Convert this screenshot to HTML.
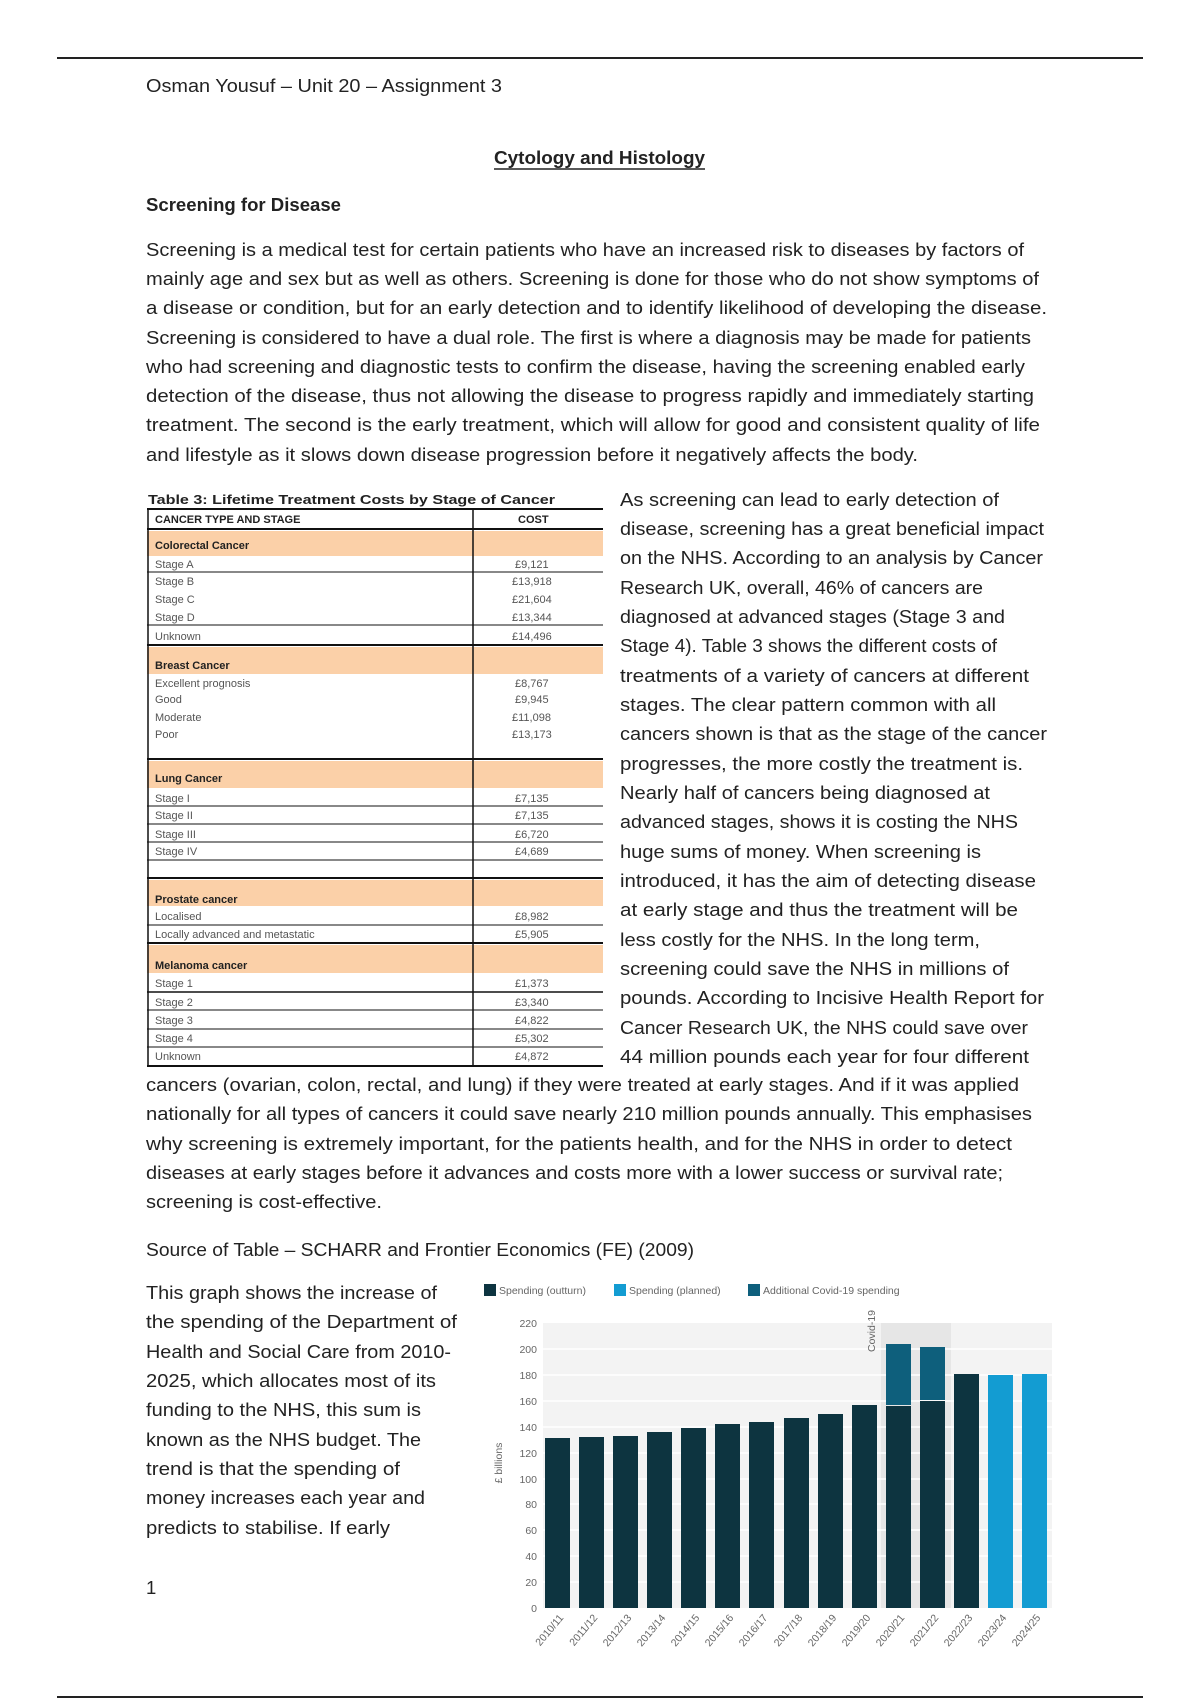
<!DOCTYPE html>
<html><head><meta charset="utf-8">
<style>
html,body{margin:0;padding:0;background:#fff;}
svg{display:block;}
.t{font-family:"Liberation Sans",sans-serif;font-size:18.5px;fill:#222;}
.b{font-weight:bold;}
.tb{font-family:"Liberation Sans",sans-serif;font-size:11px;fill:#555;}
.th{font-family:"Liberation Sans",sans-serif;font-size:11px;font-weight:bold;fill:#222;}
.ax{font-family:"Liberation Sans",sans-serif;font-size:10.5px;fill:#666;}
</style></head>
<body>
<svg width="1200" height="1700" viewBox="0 0 1200 1700" xmlns="http://www.w3.org/2000/svg">
<rect width="1200" height="1700" fill="#fff"/>
<line x1="57" y1="58" x2="1143" y2="58" stroke="#222" stroke-width="2"/>
<line x1="57" y1="1697" x2="1143" y2="1697" stroke="#222" stroke-width="2"/>

<text class="t" x="146" y="92" textLength="356" lengthAdjust="spacingAndGlyphs">Osman Yousuf – Unit 20 – Assignment 3</text>
<text class="t b" x="494" y="164" textLength="211" lengthAdjust="spacingAndGlyphs">Cytology and Histology</text>
<line x1="494" y1="169" x2="705" y2="169" stroke="#222" stroke-width="1.5"/>
<text class="t b" x="146" y="211" textLength="195" lengthAdjust="spacingAndGlyphs">Screening for Disease</text>

<g class="t">
<text class="t" x="146" y="256" textLength="878" lengthAdjust="spacingAndGlyphs">Screening is a medical test for certain patients who have an increased risk to diseases by factors of</text>
<text class="t" x="146" y="285" textLength="893" lengthAdjust="spacingAndGlyphs">mainly age and sex but as well as others. Screening is done for those who do not show symptoms of</text>
<text class="t" x="146" y="314" textLength="901" lengthAdjust="spacingAndGlyphs">a disease or condition, but for an early detection and to identify likelihood of developing the disease.</text>
<text class="t" x="146" y="344" textLength="885" lengthAdjust="spacingAndGlyphs">Screening is considered to have a dual role. The first is where a diagnosis may be made for patients</text>
<text class="t" x="146" y="373" textLength="879" lengthAdjust="spacingAndGlyphs">who had screening and diagnostic tests to confirm the disease, having the screening enabled early</text>
<text class="t" x="146" y="402" textLength="888" lengthAdjust="spacingAndGlyphs">detection of the disease, thus not allowing the disease to progress rapidly and immediately starting</text>
<text class="t" x="146" y="431" textLength="894" lengthAdjust="spacingAndGlyphs">treatment. The second is the early treatment, which will allow for good and consistent quality of life</text>
<text class="t" x="146" y="461" textLength="772" lengthAdjust="spacingAndGlyphs">and lifestyle as it slows down disease progression before it negatively affects the body.</text>
</g>

<!-- right column -->
<text class="t" x="620" y="506" textLength="379" lengthAdjust="spacingAndGlyphs">As screening can lead to early detection of</text>
<text class="t" x="620" y="535" textLength="424" lengthAdjust="spacingAndGlyphs">disease, screening has a great beneficial impact</text>
<text class="t" x="620" y="564" textLength="423" lengthAdjust="spacingAndGlyphs">on the NHS. According to an analysis by Cancer</text>
<text class="t" x="620" y="594" textLength="363" lengthAdjust="spacingAndGlyphs">Research UK, overall, 46% of cancers are</text>
<text class="t" x="620" y="623" textLength="385" lengthAdjust="spacingAndGlyphs">diagnosed at advanced stages (Stage 3 and</text>
<text class="t" x="620" y="652" textLength="377" lengthAdjust="spacingAndGlyphs">Stage 4). Table 3 shows the different costs of</text>
<text class="t" x="620" y="682" textLength="409" lengthAdjust="spacingAndGlyphs">treatments of a variety of cancers at different</text>
<text class="t" x="620" y="711" textLength="376" lengthAdjust="spacingAndGlyphs">stages. The clear pattern common with all</text>
<text class="t" x="620" y="740" textLength="427" lengthAdjust="spacingAndGlyphs">cancers shown is that as the stage of the cancer</text>
<text class="t" x="620" y="770" textLength="403" lengthAdjust="spacingAndGlyphs">progresses, the more costly the treatment is.</text>
<text class="t" x="620" y="799" textLength="370" lengthAdjust="spacingAndGlyphs">Nearly half of cancers being diagnosed at</text>
<text class="t" x="620" y="828" textLength="398" lengthAdjust="spacingAndGlyphs">advanced stages, shows it is costing the NHS</text>
<text class="t" x="620" y="858" textLength="361" lengthAdjust="spacingAndGlyphs">huge sums of money. When screening is</text>
<text class="t" x="620" y="887" textLength="416" lengthAdjust="spacingAndGlyphs">introduced, it has the aim of detecting disease</text>
<text class="t" x="620" y="916" textLength="398" lengthAdjust="spacingAndGlyphs">at early stage and thus the treatment will be</text>
<text class="t" x="620" y="946" textLength="360" lengthAdjust="spacingAndGlyphs">less costly for the NHS. In the long term,</text>
<text class="t" x="620" y="975" textLength="389" lengthAdjust="spacingAndGlyphs">screening could save the NHS in millions of</text>
<text class="t" x="620" y="1004" textLength="424" lengthAdjust="spacingAndGlyphs">pounds. According to Incisive Health Report for</text>
<text class="t" x="620" y="1034" textLength="408" lengthAdjust="spacingAndGlyphs">Cancer Research UK, the NHS could save over</text>
<text class="t" x="620" y="1063" textLength="409" lengthAdjust="spacingAndGlyphs">44 million pounds each year for four different</text>

<text class="t" x="146" y="1091" textLength="873" lengthAdjust="spacingAndGlyphs">cancers (ovarian, colon, rectal, and lung) if they were treated at early stages. And if it was applied</text>
<text class="t" x="146" y="1120" textLength="886" lengthAdjust="spacingAndGlyphs">nationally for all types of cancers it could save nearly 210 million pounds annually. This emphasises</text>
<text class="t" x="146" y="1150" textLength="866" lengthAdjust="spacingAndGlyphs">why screening is extremely important, for the patients health, and for the NHS in order to detect</text>
<text class="t" x="146" y="1179" textLength="857" lengthAdjust="spacingAndGlyphs">diseases at early stages before it advances and costs more with a lower success or survival rate;</text>
<text class="t" x="146" y="1208" textLength="236" lengthAdjust="spacingAndGlyphs">screening is cost-effective.</text>

<text class="t" x="146" y="1256" textLength="548" lengthAdjust="spacingAndGlyphs">Source of Table – SCHARR and Frontier Economics (FE) (2009)</text>

<text class="t" x="146" y="1299" textLength="291" lengthAdjust="spacingAndGlyphs">This graph shows the increase of</text>
<text class="t" x="146" y="1328" textLength="311" lengthAdjust="spacingAndGlyphs">the spending of the Department of</text>
<text class="t" x="146" y="1358" textLength="305" lengthAdjust="spacingAndGlyphs">Health and Social Care from 2010-</text>
<text class="t" x="146" y="1387" textLength="290" lengthAdjust="spacingAndGlyphs">2025, which allocates most of its</text>
<text class="t" x="146" y="1416" textLength="275" lengthAdjust="spacingAndGlyphs">funding to the NHS, this sum is</text>
<text class="t" x="146" y="1446" textLength="275" lengthAdjust="spacingAndGlyphs">known as the NHS budget. The</text>
<text class="t" x="146" y="1475" textLength="254" lengthAdjust="spacingAndGlyphs">trend is that the spending of</text>
<text class="t" x="146" y="1504" textLength="279" lengthAdjust="spacingAndGlyphs">money increases each year and</text>
<text class="t" x="146" y="1534" textLength="244" lengthAdjust="spacingAndGlyphs">predicts to stabilise. If early</text>
<text class="t" x="146" y="1594">1</text>

<!-- TABLE -->
<g>
<text class="th" x="148" y="504" textLength="407" lengthAdjust="spacingAndGlyphs" style="font-size:13px">Table 3: Lifetime Treatment Costs by Stage of Cancer</text>
<rect x="147" y="531" width="456" height="25" fill="#fbd0a8"/>
<rect x="147" y="647" width="456" height="27" fill="#fbd0a8"/>
<rect x="147" y="761" width="456" height="27" fill="#fbd0a8"/>
<rect x="147" y="880" width="456" height="26" fill="#fbd0a8"/>
<rect x="147" y="945" width="456" height="28" fill="#fbd0a8"/>
<g stroke="#111">
<line x1="147" y1="509" x2="603" y2="509" stroke-width="2"/>
<line x1="147" y1="529" x2="603" y2="529" stroke-width="2"/>
<line x1="147" y1="572" x2="603" y2="572" stroke-width="1"/>
<line x1="147" y1="625" x2="603" y2="625" stroke-width="1"/>
<line x1="147" y1="645" x2="603" y2="645" stroke-width="2"/>
<line x1="147" y1="759" x2="603" y2="759" stroke-width="2"/>
<line x1="147" y1="806" x2="603" y2="806" stroke-width="1"/>
<line x1="147" y1="824" x2="603" y2="824" stroke-width="1"/>
<line x1="147" y1="842" x2="603" y2="842" stroke-width="1"/>
<line x1="147" y1="860" x2="603" y2="860" stroke-width="1"/>
<line x1="147" y1="878" x2="603" y2="878" stroke-width="2"/>
<line x1="147" y1="925" x2="603" y2="925" stroke-width="1"/>
<line x1="147" y1="943" x2="603" y2="943" stroke-width="2"/>
<line x1="147" y1="992" x2="603" y2="992" stroke-width="1.5"/>
<line x1="147" y1="1010" x2="603" y2="1010" stroke-width="1"/>
<line x1="147" y1="1029" x2="603" y2="1029" stroke-width="1"/>
<line x1="147" y1="1047" x2="603" y2="1047" stroke-width="1"/>
<line x1="147" y1="1066" x2="603" y2="1066" stroke-width="2"/>
<line x1="148" y1="509" x2="148" y2="1066" stroke-width="1.5"/>
<line x1="473" y1="509" x2="473" y2="1066" stroke-width="1.5"/>
</g>
<text class="th" x="155" y="523">CANCER TYPE AND STAGE</text>
<text class="th" x="518" y="523">COST</text>
<text class="th" x="155" y="549">Colorectal Cancer</text>
<text class="tb" x="155" y="568">Stage A</text><text class="tb" x="515" y="568">£9,121</text>
<text class="tb" x="155" y="585">Stage B</text><text class="tb" x="512" y="585">£13,918</text>
<text class="tb" x="155" y="603">Stage C</text><text class="tb" x="512" y="603">£21,604</text>
<text class="tb" x="155" y="621">Stage D</text><text class="tb" x="512" y="621">£13,344</text>
<text class="tb" x="155" y="640">Unknown</text><text class="tb" x="512" y="640">£14,496</text>
<text class="th" x="155" y="669">Breast Cancer</text>
<text class="tb" x="155" y="687">Excellent prognosis</text><text class="tb" x="515" y="687">£8,767</text>
<text class="tb" x="155" y="703">Good</text><text class="tb" x="515" y="703">£9,945</text>
<text class="tb" x="155" y="721">Moderate</text><text class="tb" x="512" y="721">£11,098</text>
<text class="tb" x="155" y="738">Poor</text><text class="tb" x="512" y="738">£13,173</text>
<text class="th" x="155" y="782">Lung Cancer</text>
<text class="tb" x="155" y="802">Stage I</text><text class="tb" x="515" y="802">£7,135</text>
<text class="tb" x="155" y="819">Stage II</text><text class="tb" x="515" y="819">£7,135</text>
<text class="tb" x="155" y="838">Stage III</text><text class="tb" x="515" y="838">£6,720</text>
<text class="tb" x="155" y="855">Stage IV</text><text class="tb" x="515" y="855">£4,689</text>
<text class="th" x="155" y="903">Prostate cancer</text>
<text class="tb" x="155" y="920">Localised</text><text class="tb" x="515" y="920">£8,982</text>
<text class="tb" x="155" y="938">Locally advanced and metastatic</text><text class="tb" x="515" y="938">£5,905</text>
<text class="th" x="155" y="969">Melanoma cancer</text>
<text class="tb" x="155" y="987">Stage 1</text><text class="tb" x="515" y="987">£1,373</text>
<text class="tb" x="155" y="1006">Stage 2</text><text class="tb" x="515" y="1006">£3,340</text>
<text class="tb" x="155" y="1024">Stage 3</text><text class="tb" x="515" y="1024">£4,822</text>
<text class="tb" x="155" y="1042">Stage 4</text><text class="tb" x="515" y="1042">£5,302</text>
<text class="tb" x="155" y="1060">Unknown</text><text class="tb" x="515" y="1060">£4,872</text>
</g>

<!-- CHART -->
<g>
<rect x="484" y="1284" width="12" height="12" fill="#0d3440"/>
<text class="ax" x="499" y="1294">Spending (outturn)</text>
<rect x="614" y="1284" width="12" height="12" fill="#139cd2"/>
<text class="ax" x="629" y="1294">Spending (planned)</text>
<rect x="748" y="1284" width="12" height="12" fill="#0e5f7c"/>
<text class="ax" x="763" y="1294">Additional Covid-19 spending</text>

<rect x="543" y="1323" width="509" height="285" fill="#f3f3f3"/>
<rect x="881" y="1323" width="70" height="285" fill="#e6e6e6"/>
<g stroke="#fff" stroke-width="1.5">
<line x1="543" y1="1349" x2="1052" y2="1349"/><line x1="543" y1="1375" x2="1052" y2="1375"/>
<line x1="543" y1="1401" x2="1052" y2="1401"/><line x1="543" y1="1427" x2="1052" y2="1427"/>
<line x1="543" y1="1453" x2="1052" y2="1453"/><line x1="543" y1="1479" x2="1052" y2="1479"/>
<line x1="543" y1="1504" x2="1052" y2="1504"/><line x1="543" y1="1530" x2="1052" y2="1530"/>
<line x1="543" y1="1556" x2="1052" y2="1556"/><line x1="543" y1="1582" x2="1052" y2="1582"/>
</g>
<g class="ax" text-anchor="end">
<text x="537" y="1327">220</text><text x="537" y="1353">200</text><text x="537" y="1379">180</text>
<text x="537" y="1405">160</text><text x="537" y="1431">140</text><text x="537" y="1457">120</text>
<text x="537" y="1483">100</text><text x="537" y="1508">80</text><text x="537" y="1534">60</text>
<text x="537" y="1560">40</text><text x="537" y="1586">20</text><text x="537" y="1612">0</text>
</g>
<text class="ax" transform="translate(502,1463) rotate(-90)" text-anchor="middle">£ billions</text>
<text class="ax" transform="translate(875,1352) rotate(-90)">Covid-19</text>
<g fill="#0d3440">
<rect x="545" y="1438" width="25" height="170"/>
<rect x="579" y="1437" width="25" height="171"/>
<rect x="613" y="1436" width="25" height="172"/>
<rect x="647" y="1432" width="25" height="176"/>
<rect x="681" y="1428" width="25" height="180"/>
<rect x="715" y="1424" width="25" height="184"/>
<rect x="749" y="1422" width="25" height="186"/>
<rect x="784" y="1418" width="25" height="190"/>
<rect x="818" y="1414" width="25" height="194"/>
<rect x="852" y="1405" width="25" height="203"/>
<rect x="886" y="1406" width="25" height="202"/>
<rect x="920" y="1401" width="25" height="207"/>
<rect x="954" y="1374" width="25" height="234"/>
</g>
<rect x="886" y="1344" width="25" height="61" fill="#0e5f7c"/>
<rect x="920" y="1347" width="25" height="53" fill="#0e5f7c"/>
<rect x="988" y="1375" width="25" height="233" fill="#139cd2"/>
<rect x="1022" y="1374" width="25" height="234" fill="#139cd2"/>
<g class="ax" text-anchor="end">
<text transform="translate(564,1618) rotate(-50)">2010/11</text>
<text transform="translate(598,1618) rotate(-50)">2011/12</text>
<text transform="translate(632,1618) rotate(-50)">2012/13</text>
<text transform="translate(666,1618) rotate(-50)">2013/14</text>
<text transform="translate(700,1618) rotate(-50)">2014/15</text>
<text transform="translate(734,1618) rotate(-50)">2015/16</text>
<text transform="translate(768,1618) rotate(-50)">2016/17</text>
<text transform="translate(803,1618) rotate(-50)">2017/18</text>
<text transform="translate(837,1618) rotate(-50)">2018/19</text>
<text transform="translate(871,1618) rotate(-50)">2019/20</text>
<text transform="translate(905,1618) rotate(-50)">2020/21</text>
<text transform="translate(939,1618) rotate(-50)">2021/22</text>
<text transform="translate(973,1618) rotate(-50)">2022/23</text>
<text transform="translate(1007,1618) rotate(-50)">2023/24</text>
<text transform="translate(1041,1618) rotate(-50)">2024/25</text>
</g>
</g>
</svg>
</body></html>
